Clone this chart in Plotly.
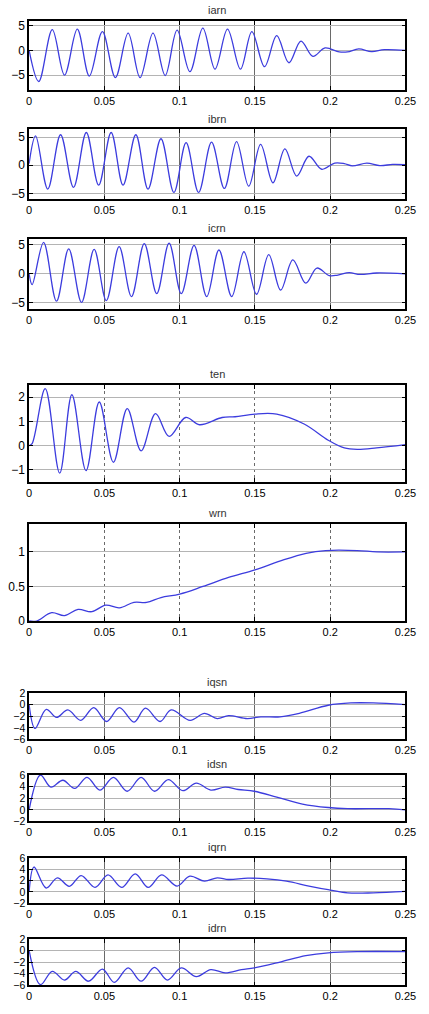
import plotly.graph_objects as go

W, H = 429, 1014

X_TICKS = [0, 0.05, 0.1, 0.15, 0.2, 0.25]
X_LABELS = ["0", "0.05", "0.1", "0.15", "0.2", "0.25"]

# ---------------- data ----------------
t_iarn = [0, 0.0064, 0.0154, 0.0235, 0.032, 0.040, 0.0487, 0.0573, 0.0658, 0.0737, 0.0823, 0.0904,
          0.0983, 0.1068, 0.1154, 0.1235, 0.1318, 0.1404, 0.148, 0.1564, 0.1645, 0.1726, 0.1806,
          0.1885, 0.1966, 0.206, 0.2115, 0.219, 0.2276, 0.236, 0.25]
v_iarn = [0, -6.3, 4.2, -5.0, 4.3, -5.2, 3.8, -5.5, 3.5, -5.5, 3.5, -5.1,
          4.1, -4.3, 4.5, -3.8, 4.3, -3.8, 3.8, -3.3, 3.0, -2.5, 1.9,
          -1.2, 0.5, -0.3, -0.3, 0.3, -0.25, 0.15, 0.0]

t_ibrn = [0, 0.0043, 0.0124, 0.0209, 0.0295, 0.038, 0.0462, 0.0545, 0.0624, 0.0709, 0.079, 0.0876,
          0.0962, 0.1043, 0.1126, 0.1212, 0.1297, 0.1378, 0.1459, 0.1538, 0.162, 0.1699, 0.1778,
          0.1859, 0.1944, 0.203, 0.2094, 0.2147, 0.2244, 0.233, 0.2415, 0.25]
v_ibrn = [0.3, 5.2, -4.2, 5.4, -3.9, 5.8, -3.5, 5.8, -3.5, 5.4, -4.2, 4.7,
          -4.8, 4.0, -4.8, 4.1, -4.1, 4.2, -3.7, 3.7, -3.1, 2.9, -1.9,
          1.6, -0.7, 0.4, 0.3, -0.1, 0.4, -0.05, 0.15, 0.1]

t_icrn = [0, 0.002, 0.0096, 0.0182, 0.0263, 0.0348, 0.0432, 0.0513, 0.0598, 0.068, 0.0765, 0.0848,
          0.093, 0.1011, 0.1096, 0.118, 0.1261, 0.1346, 0.1427, 0.1511, 0.1592, 0.1671, 0.1752,
          0.1838, 0.1912, 0.1994, 0.2051, 0.2126, 0.22, 0.2308, 0.25]
v_icrn = [0, -1.85, 5.4, -4.7, 4.3, -4.9, 4.2, -4.6, 4.7, -3.9, 5.2, -3.4,
          5.3, -3.4, 4.9, -3.9, 4.1, -3.9, 3.8, -3.5, 3.3, -2.8, 2.4,
          -1.6, 1.0, -0.3, -0.2, 0.2, -0.1, 0.15, 0.0]

t_ten = [0, 0.002, 0.0107, 0.0203, 0.0284, 0.0378, 0.0466, 0.056, 0.0652, 0.0744, 0.084, 0.093,
         0.104, 0.1132, 0.1282, 0.1368, 0.15, 0.1645, 0.1827, 0.1987, 0.2094, 0.218, 0.2308, 0.25]
v_ten = [0, 0.08, 2.35, -1.14, 2.1, -1.04, 1.8, -0.69, 1.53, -0.22, 1.32, 0.38,
         1.16, 0.86, 1.16, 1.19, 1.3, 1.3, 0.89, 0.22, -0.1, -0.16, -0.1, 0.04]

t_wrn = [0, 0.005, 0.015, 0.0235, 0.0325, 0.0417, 0.0509, 0.06, 0.0696, 0.078, 0.0876, 0.1,
         0.1155, 0.1325, 0.15, 0.167, 0.184, 0.197, 0.218, 0.231, 0.25]
v_wrn = [0, 0.0, 0.12, 0.077, 0.168, 0.135, 0.23, 0.19, 0.27, 0.27, 0.34, 0.39,
         0.5, 0.63, 0.74, 0.87, 0.98, 1.02, 1.02, 1.0, 1.0]

t_iqsn = [0, 0.0039, 0.0114, 0.0182, 0.0257, 0.0343, 0.0429, 0.0515, 0.06, 0.0697, 0.0773, 0.087,
          0.0944, 0.107, 0.1165, 0.125, 0.1325, 0.145, 0.154, 0.1667, 0.1795, 0.1987, 0.2137,
          0.2286, 0.25]
v_iqsn = [0, -4.1, -0.8, -2.2, -0.9, -2.7, -0.5, -2.9, -0.5, -3.0, -0.6, -2.9,
          -0.9, -2.7, -1.5, -2.4, -1.9, -2.4, -2.1, -2.1, -1.5, -0.1, 0.3,
          0.3, 0.0]

t_idsn = [0, 0.0075, 0.0145, 0.0224, 0.0303, 0.0385, 0.047, 0.056, 0.0652, 0.0744, 0.0833, 0.0925,
          0.1021, 0.1111, 0.1207, 0.1303, 0.1389, 0.1496, 0.1645, 0.1816, 0.1987, 0.2115, 0.239, 0.25]
v_idsn = [0, 6.0, 3.9, 5.1, 3.7, 5.6, 3.4, 5.6, 3.2, 5.6, 3.2, 5.2,
          3.3, 4.6, 3.4, 3.9, 3.5, 3.2, 2.2, 1.0, 0.4, 0.2, 0.2, 0.0]

t_iqrn = [0, 0.0032, 0.0113, 0.0188, 0.0267, 0.0346, 0.0438, 0.0524, 0.0615, 0.0705, 0.0791, 0.088,
          0.0983, 0.1068, 0.1165, 0.125, 0.1325, 0.1453, 0.158, 0.171, 0.1859, 0.1987, 0.2115,
          0.2286, 0.25]
v_iqrn = [0, 4.4, 0.7, 2.5, 1.0, 2.9, 0.8, 3.0, 0.8, 3.2, 0.8, 3.0,
          1.05, 2.8, 1.9, 2.5, 2.2, 2.45, 2.3, 1.9, 1.05, 0.4, -0.15,
          -0.15, 0.1]

t_idrn = [0, 0.0075, 0.0154, 0.0235, 0.031, 0.0395, 0.0487, 0.0566, 0.0658, 0.0744, 0.0833, 0.0919,
          0.1011, 0.1111, 0.1207, 0.1303, 0.141, 0.1496, 0.1667, 0.1838, 0.1987, 0.218, 0.25]
v_idrn = [0, -5.9, -3.6, -5.1, -3.6, -5.3, -3.2, -5.5, -3.0, -5.3, -2.9, -5.1,
          -3.0, -4.5, -3.3, -3.85, -3.3, -3.0, -2.0, -0.9, -0.4, -0.2, -0.2]

# ---------------- layout spec (pixels) ----------------
panels = [
    dict(title="iarn", t=t_iarn, v=v_iarn, top=15, bot=85, yr=[-8, 6], yt=[-5, 0, 5], vdash="solid", yfs=12),
    dict(title="ibrn", t=t_ibrn, v=v_ibrn, top=125, bot=196, yr=[-6.05, 6.35], yt=[-5, 0, 5], vdash="solid", yfs=12),
    dict(title="icrn", t=t_icrn, v=v_icrn, top=236, bot=307, yr=[-6.05, 6.0], yt=[-5, 0, 5], vdash="solid", yfs=12),
    dict(title="ten", t=t_ten, v=v_ten, top=384, bot=482, yr=[-1.5, 2.5], yt=[-1, 0, 1, 2], vdash="dot", yfs=12),
    dict(title="wrn", t=t_wrn, v=v_wrn, top=525, bot=623, yr=[0, 1.4], yt=[0, 0.5, 1], vdash="dot", yfs=12),
    dict(title="iqsn", t=t_iqsn, v=v_iqsn, top=696, bot=743, yr=[-6, 2], yt=[-6, -4, -2, 0, 2], vdash="solid", yfs=10.5),
    dict(title="idsn", t=t_idsn, v=v_idsn, top=779, bot=826, yr=[-2, 6], yt=[-2, 0, 2, 4, 6], vdash="solid", yfs=10.5),
    dict(title="iqrn", t=t_iqrn, v=v_iqrn, top=863, bot=909, yr=[-2, 6], yt=[-2, 0, 2, 4, 6], vdash="solid", yfs=10.5),
    dict(title="idrn", t=t_idrn, v=v_idrn, top=945, bot=992, yr=[-6, 2], yt=[-6, -4, -2, 0, 2], vdash="solid", yfs=10.5),
]

X0, X1 = 27, 416
FONT = "Liberation Sans, Arial, sans-serif"

fig = go.Figure()
layout = dict(
    width=W, height=H, margin=dict(l=0, r=0, t=0, b=0),
    paper_bgcolor="white", plot_bgcolor="white", showlegend=False,
    font=dict(family=FONT, size=12, color="black"),
    annotations=[],
)

for i, p in enumerate(panels, start=1):
    xa = "x" if i == 1 else f"x{i}"
    ya = "y" if i == 1 else f"y{i}"
    fig.add_trace(go.Scatter(
        x=p["t"], y=p["v"], mode="lines", xaxis=xa, yaxis=ya,
        line=dict(color="#3c3cde", width=1.3, shape="spline", smoothing=1.0),
        hoverinfo="skip",
    ))
    xkey = "xaxis" if i == 1 else f"xaxis{i}"
    ykey = "yaxis" if i == 1 else f"yaxis{i}"
    layout[xkey] = dict(
        domain=[X0 / W, X1 / W], anchor=ya, range=[0, 0.25],
        tickmode="array", tickvals=X_TICKS, ticktext=X_LABELS,
        showline=True, linecolor="black", linewidth=1.5, mirror="ticks",
        ticks="inside", ticklen=4, tickcolor="black", tickwidth=1,
        showgrid=True, gridcolor="#6a6a6a", gridwidth=1, griddash=p["vdash"],
        zeroline=False, tickfont=dict(family=FONT, size=11, color="black"),
        fixedrange=True,
    )
    layout[ykey] = dict(
        domain=[1 - p["bot"] / H, 1 - p["top"] / H], anchor=xa, range=p["yr"],
        tickmode="array", tickvals=p["yt"],
        showline=True, linecolor="black", linewidth=1.5, mirror="ticks",
        ticks="inside", ticklen=4, tickcolor="black", tickwidth=1,
        showgrid=True, gridcolor="#b4b4b4", gridwidth=1.2,
        zeroline=False, tickfont=dict(family=FONT, size=p["yfs"], color="black"),
        fixedrange=True,
    )
    layout["annotations"].append(dict(
        text=p["title"], xref="paper", yref="paper",
        x=(X0 + X1) / 2 / W, y=1 - (p["top"] - 11) / H,
        xanchor="center", yanchor="middle", showarrow=False,
        font=dict(family=FONT, size=11, color="#333333"),
    ))

fig.update_layout(**layout)
fig.write_html("out.html")
